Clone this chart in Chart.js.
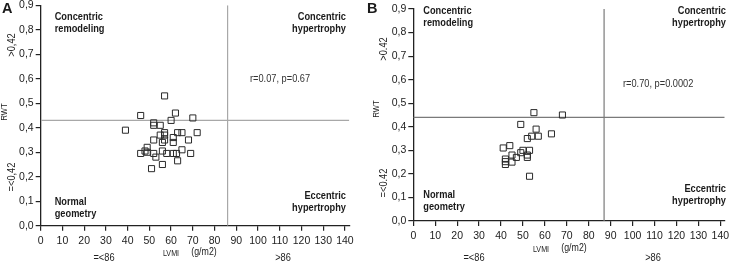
<!DOCTYPE html>
<html>
<head>
<meta charset="utf-8">
<script src="https://cdn.jsdelivr.net/npm/chart.js@4.4.0/dist/chart.umd.min.js"></script>
<style>
body { margin: 0; background: #fff; }
#wrap { position: relative; width: 730px; height: 267px; }
.panel { position: absolute; top: 0; width: 365px; height: 267px; }
</style>
</head>
<body>
<div id="wrap">
	<div class="panel" style="left:0"><canvas id="chartA" width="365" height="267"></canvas></div>
	<div class="panel" style="left:365px"><canvas id="chartB" width="365" height="267"></canvas></div>
</div>
<script>
// Panel A: LVMI (g/m2) and RWT per patient
var lvmiA = [57, 46, 62, 70, 60, 52, 52, 55, 39,
	57, 63, 65, 72, 55, 57, 61, 57, 52, 68, 56, 61,
	49, 48, 49, 46, 56, 52, 58, 61, 62.5, 65, 69, 53, 63, 56, 51];
var rwtA = [0.53, 0.45, 0.46, 0.44, 0.43, 0.42, 0.41, 0.41, 0.39,
	0.38, 0.38, 0.38, 0.38, 0.37, 0.37, 0.36, 0.35, 0.35, 0.35, 0.34, 0.34,
	0.32, 0.305, 0.30, 0.295, 0.305, 0.295, 0.295, 0.295, 0.295, 0.31, 0.295, 0.28, 0.265, 0.25, 0.233];

// Panel B
var lvmiB = [55, 68, 49, 56, 63, 54, 57, 52, 44, 41, 50, 53, 49, 45, 52, 52, 47, 42, 42, 42, 45, 53];
var rwtB = [0.46, 0.45, 0.41, 0.39, 0.37, 0.36, 0.36, 0.35, 0.32, 0.31, 0.30, 0.30, 0.29, 0.28, 0.28, 0.27, 0.27, 0.263, 0.252, 0.24, 0.25, 0.19];

// Cut-off lines (LVMI, RWT) as drawn in each panel
var cutA = [86, 0.43];
var cutB = [87, 0.44];

var xTicks = [0, 10, 20, 30, 40, 50, 60, 70, 80, 90, 100, 110, 120, 130, 140];
var yTicks = [0.0, 0.1, 0.2, 0.3, 0.4, 0.5, 0.6, 0.7, 0.8, 0.9];

var FONT = '"Liberation Sans", Arial, sans-serif';
Chart.defaults.font.family = FONT;
Chart.defaults.color = '#222';

// the original lettering is a condensed face, squeeze it a bit
var SQUEEZE = 0.84;

function toPoints(xs, ys) {
	var pts = [];
	for (var i = 0; i < xs.length; i++) {
		pts.push({x: xs[i], y: ys[i]});
	}
	return pts;
}

function putText(ctx, text, x, y, align, font, rotate) {
	ctx.save();
	ctx.font = font;
	ctx.textAlign = align;
	ctx.translate(x, y);
	if (rotate) ctx.rotate(-Math.PI / 2);
	ctx.scale(SQUEEZE, 1);
	ctx.fillText(text, 0, 0);
	ctx.restore();
}

// Text around the plot: panel letter, quadrant names, axis notes
var notesPlugin = {
	id: 'notes',
	afterDraw: function(chart) {
		var n = chart.options.plugins.notes;
		var ctx = chart.ctx;
		var a = chart.chartArea;
		var bold = 'bold 11px ' + FONT;
		ctx.save();
		ctx.fillStyle = '#1a1a1a';
		ctx.textBaseline = 'middle';

		ctx.font = 'bold 14.5px ' + FONT;
		ctx.textAlign = 'left';
		ctx.fillText(n.letter, 2, 9);

		putText(ctx, 'Concentric', a.left + n.qx, n.topY, 'left', bold);
		putText(ctx, 'remodeling', a.left + n.qx, n.topY + 12, 'left', bold);
		putText(ctx, 'Normal', a.left + n.qx, n.botY, 'left', bold);
		putText(ctx, 'geometry', a.left + n.qx, n.botY + 12, 'left', bold);
		putText(ctx, 'Concentric', n.rightX, n.topY, 'right', bold);
		putText(ctx, 'hypertrophy', n.rightX, n.topY + 12, 'right', bold);
		putText(ctx, 'Eccentric', n.rightX, n.botY - 6, 'right', bold);
		putText(ctx, 'hypertrophy', n.rightX, n.botY + 6, 'right', bold);

		ctx.fillStyle = '#333';
		putText(ctx, n.stat, n.statX, n.statY, 'left', '11px ' + FONT);

		// rotated y notes
		ctx.fillStyle = '#222';
		putText(ctx, n.hiLabel, n.noteX, n.hiY, 'center', '11px ' + FONT, true);
		putText(ctx, 'RWT', n.rwtX, n.rwtY, 'center', '9px ' + FONT, true);
		putText(ctx, n.loLabel, n.noteX, n.loY, 'center', '11px ' + FONT, true);

		// x notes
		putText(ctx, 'LVMI', n.lvmiX, n.lvmiY, 'center', '8.5px ' + FONT);
		putText(ctx, '(g/m2)', n.lvmiX + 33, n.lvmiY - 2, 'center', '10.5px ' + FONT);
		putText(ctx, '=<86', n.lvmiX - 67, 258, 'center', '11px ' + FONT);
		putText(ctx, '>86', n.lvmiX + 112, 258, 'center', '11px ' + FONT);
		ctx.restore();
	}
};

function makePanel(id, xs, ys, cut, lineColor, dims, notes) {
	var ctx = document.getElementById(id).getContext('2d');
	return new Chart(ctx, {
		type: 'scatter',
		data: {
			datasets: [{
				data: toPoints(xs, ys),
				pointStyle: 'rect',
				pointRadius: 4.3,
				pointBorderWidth: 1,
				pointBorderColor: '#2a2a2a',
				pointBackgroundColor: 'rgba(255,255,255,0)'
			}, {
				type: 'line',
				data: [{x: cut[0], y: 0}, {x: cut[0], y: 0.9}],
				borderColor: lineColor,
				borderWidth: 1.2,
				pointRadius: 0
			}, {
				type: 'line',
				data: [{x: 0, y: cut[1]}, {x: 142, y: cut[1]}],
				borderColor: lineColor,
				borderWidth: 1.2,
				pointRadius: 0
			}]
		},
		options: {
			responsive: false,
			animation: false,
			layout: {
				padding: {left: 0, right: dims.right, top: dims.top, bottom: 0}
			},
			plugins: {
				legend: {display: false},
				tooltip: {enabled: false},
				notes: notes
			},
			scales: {
				x: {
					type: 'linear',
					min: 0,
					max: 142,
					border: {color: '#222', width: 1.3},
					grid: {drawOnChartArea: false, drawTicks: true, tickLength: 5, color: '#222', lineWidth: 1.2},
					afterBuildTicks: function(scale) {
						scale.ticks = xTicks.map(function(v) { return {value: v}; });
					},
					afterFit: function(scale) {
						scale.height = dims.xh;
						scale.paddingLeft = 0;
						scale.paddingRight = 0;
					},
					ticks: {
						font: {size: 10.5},
						padding: 4,
						maxRotation: 0,
						autoSkip: false
					}
				},
				y: {
					type: 'linear',
					min: 0,
					max: 0.9,
					border: {color: '#222', width: 1.3},
					grid: {drawOnChartArea: false, drawTicks: true, tickLength: 5, color: '#222', lineWidth: 1.2},
					afterBuildTicks: function(scale) {
						scale.ticks = yTicks.map(function(v) { return {value: v}; });
					},
					afterFit: function(scale) {
						scale.width = dims.yw;
						scale.paddingTop = 0;
						scale.paddingBottom = 0;
					},
					ticks: {
						font: {size: 10.5},
						padding: 2,
						autoSkip: false,
						callback: function(v) { return v.toFixed(1).replace('.', ','); }
					}
				}
			}
		},
		plugins: [notesPlugin]
	});
}

makePanel('chartA', lvmiA, rwtA, cutA, '#a8a8a8',
	{right: 15.7, top: 5.3, xh: 41.3, yw: 40.7},
	{letter: 'A', qx: 14, topY: 17, botY: 202, rightX: 346,
	 stat: 'r=0.07, p=0.67', statX: 250, statY: 79,
	 hiLabel: '>0,42', loLabel: '=<0,42', noteX: 12, hiY: 45, loY: 177,
	 rwtX: 5, rwtY: 112, lvmiX: 171, lvmiY: 254});

makePanel('chartB', lvmiB, rwtB, cutB, '#7a7a7a',
	{right: 3.9, top: 9, xh: 46, yw: 48.3},
	{letter: 'B', qx: 10, topY: 11, botY: 195, rightX: 361,
	 stat: 'r=0.70, p=0.0002', statX: 258, statY: 84,
	 hiLabel: '>0.42', loLabel: '=<0.42', noteX: 19, hiY: 49, loY: 183,
	 rwtX: 12, rwtY: 109, lvmiX: 176, lvmiY: 250});
</script>
</body>
</html>
